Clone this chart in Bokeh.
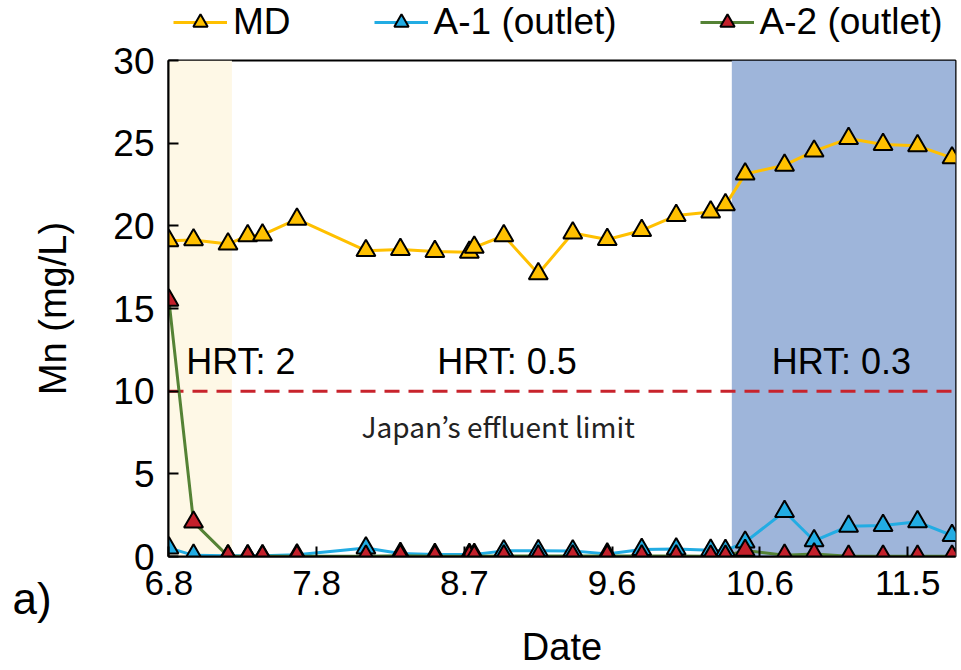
import pandas as pd
from bokeh.plotting import figure
from bokeh.layouts import column
from bokeh.models import Range1d, FixedTicker, BoxAnnotation, Span, Label, Legend, LegendItem, Title
from bokeh.embed import file_html
from bokeh.resources import INLINE

# ---- data ----
dates = ["2021-06-08", "2021-06-13", "2021-06-20", "2021-06-24", "2021-06-27", "2021-07-04",
         "2021-07-18", "2021-07-25", "2021-08-01", "2021-08-08", "2021-08-09", "2021-08-15",
         "2021-08-22", "2021-08-29", "2021-09-05", "2021-09-12", "2021-09-19", "2021-09-26",
         "2021-09-29", "2021-10-03", "2021-10-11", "2021-10-17", "2021-10-24", "2021-10-31",
         "2021-11-07", "2021-11-14"]
md = [19.1, 19.15, 18.9, 19.4, 19.45, 20.4, 18.5, 18.57, 18.45, 18.4, 18.7, 19.4, 17.1,
      19.57, 19.17, 19.72, 20.62, 20.84, 21.27, 23.13, 23.67, 24.52, 25.28, 24.92, 24.84, 24.11]
a1 = [0.52, 0.07, 0.05, 0.05, 0.05, 0.1, 0.52, 0.18, 0.12, 0.12, 0.12, 0.34, 0.35,
      0.34, 0.15, 0.42, 0.45, 0.38, 0.36, 0.87, 2.72, 0.95, 1.83, 1.87, 2.1, 1.27]
a2 = [15.5, 2.08, 0.02, 0.02, 0.02, 0.02, 0.02, 0.05, 0.02, 0.02, 0.02, 0.03, 0.03,
      0.03, 0.03, 0.03, 0.03, 0.02, 0.02, 0.37, 0.08, 0.15, 0.02, 0.02, 0.02, 0.02]
series_names = ["MD", "A-1 (outlet)", "A-2 (outlet)"]

tick_dates = ["2021-06-08", "2021-07-08", "2021-08-07", "2021-09-06", "2021-10-06", "2021-11-05"]
tick_labels = ["6.8", "7.8", "8.7", "9.6", "10.6", "11.5"]
y_ticks = [0, 5, 10, 15, 20, 25, 30]

axis_start = "2021-06-07 22:00"
axis_end = "2021-11-14 17:00"
hrt2_end = "2021-06-20 19:00"
hrt03_start = "2021-09-30 07:00"
limit = 10

t0 = pd.Timestamp(dates[0])


def days(s):
    return (pd.Timestamp(s) - t0) / pd.Timedelta(days=1)


x = [days(d) for d in dates]
NAN = float("nan")
FONT = "Liberation Sans"
styles = [("#FFC000", "#FFC000"), ("#22ACE3", "#22ACE3"), ("#548235", "#C3202B")]

# ---------------- legend strip ----------------
leg = figure(width=961, height=42, output_backend="svg", toolbar_location=None,
             x_axis_location=None, y_axis_location=None, x_range=Range1d(0, 1),
             y_range=Range1d(0, 1), min_border=0)
leg.outline_line_color = None
leg.grid.visible = False
leg_items = []
for name, (lc, fc) in zip(series_names, styles):
    rl = leg.line([NAN], [NAN], line_color=lc, line_width=3)
    rs = leg.scatter([NAN], [NAN], marker="triangle", size=19, fill_color=fc,
                     line_color="black", line_width=2)
    leg_items.append(LegendItem(label=name, renderers=[rl, rs]))
legend = Legend(items=leg_items, orientation="horizontal", location=(5, -1),
                background_fill_alpha=0, border_line_color=None, label_text_font=FONT,
                label_text_font_size="37px", label_text_color="black", glyph_width=54,
                glyph_height=36, label_standoff=6, spacing=83, padding=0, margin=0)
leg.add_layout(legend, "center")

# ---------------- main plot ----------------
p = figure(width=961, height=628, output_backend="svg", toolbar_location=None,
           x_range=Range1d(days(axis_start), days(axis_end)), y_range=Range1d(0, 30))
p.min_border_left = 168
p.min_border_right = 6
p.min_border_top = 18
p.min_border_bottom = 113
p.background_fill_color = "white"
p.border_fill_color = "white"
p.xgrid.visible = False
p.ygrid.visible = False
p.outline_line_color = "black"
p.outline_line_width = 2
p.outline_line_alpha = 1

p.add_layout(BoxAnnotation(left=days(axis_start), right=days(hrt2_end), fill_color="#FEF8E6",
                           fill_alpha=1, line_color=None, level="underlay"))
p.add_layout(BoxAnnotation(left=days(hrt03_start), right=days(axis_end), fill_color="#9EB5DA",
                           fill_alpha=1, line_color=None, level="underlay"))
p.add_layout(Span(location=limit, dimension="width", line_color="#C8232C", line_width=3,
                  line_dash="15 9", level="underlay"))

for vals, (lc, fc) in zip([md, a1, a2], styles):
    p.line(x, vals, line_color=lc, line_width=3)
for vals, (lc, fc) in zip([md, a1, a2], styles):
    p.scatter(x, vals, marker="triangle", size=19, fill_color=fc, line_color="black",
              line_width=2)

for ax in (p.xaxis[0], p.yaxis[0]):
    ax.axis_line_width = 2
    ax.axis_line_color = "black"
    ax.major_tick_line_width = 2
    ax.major_tick_line_color = "black"
    ax.major_tick_in = 10
    ax.major_tick_out = 0
    ax.minor_tick_in = 0
    ax.minor_tick_out = 0
    ax.major_label_text_font = FONT
    ax.major_label_text_color = "black"
    ax.axis_label_text_font = FONT
    ax.axis_label_text_font_style = "normal"
    ax.axis_label_text_color = "black"

p.xaxis.ticker = FixedTicker(ticks=[days(t) for t in tick_dates])
p.xaxis.major_label_overrides = {days(t): lab for t, lab in zip(tick_dates, tick_labels)}
p.xaxis.major_label_text_font_size = "35px"
p.xaxis.major_label_standoff = 14
p.xaxis.axis_label = "Date"
p.xaxis.axis_label_text_font_size = "38px"
p.xaxis.axis_label_standoff = 28

p.yaxis.ticker = FixedTicker(ticks=y_ticks)
p.yaxis.major_label_text_font_size = "37px"
p.yaxis.major_label_standoff = 14
p.yaxis.axis_label = "Mn (mg/L)"
p.yaxis.axis_label_text_font_size = "38px"
p.yaxis.axis_label_standoff = 36

for txt, xd in [("HRT: 2", 3.5), ("HRT: 0.5", 54.5), ("HRT: 0.3", 122.4)]:
    p.add_layout(Label(x=xd, y=11.8, text=txt, text_font=FONT, text_font_size="36px",
                       text_baseline="alphabetic", text_color="black"))
p.add_layout(Label(x=39.1, y=7.9, text="Japan\u2019s effluent limit", text_font="Noto Sans CJK JP",
                   text_font_size="28px", text_baseline="alphabetic", text_color="#222222"))
p.add_layout(Title(text="a)", align="left", vertical_align="top", offset=-156, standoff=-194,
                   text_font=FONT, text_font_size="44px", text_font_style="normal",
                   text_color="black"), "below")

open("out.html", "w").write(file_html(column(leg, p, spacing=0), INLINE))
